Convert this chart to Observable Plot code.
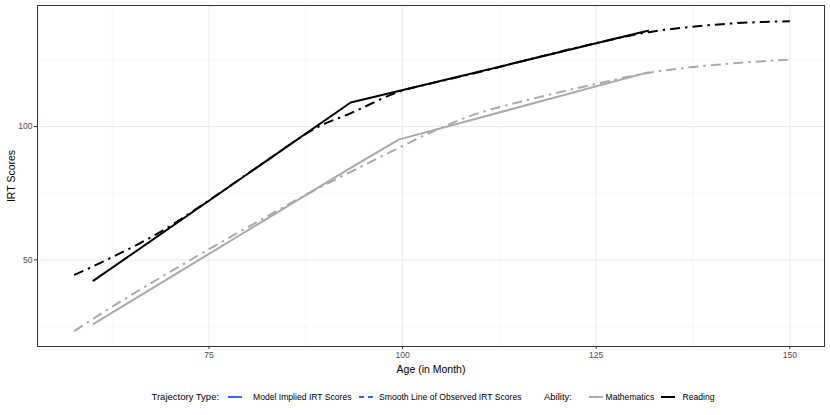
<!DOCTYPE html>
<html>
<head>
<meta charset="utf-8">
<script src="https://cdn.jsdelivr.net/npm/d3@7"></script>
<script src="https://cdn.jsdelivr.net/npm/@observablehq/plot@0.6"></script>
<style>
  html, body { margin: 0; padding: 0; background: white; }
  #wrap { width: 830px; font-family: "Liberation Sans", Arial, Helvetica, sans-serif; }
  svg [aria-label="x-axis label"] text, svg [aria-label="y-axis label"] text { font-size: 10.5px; fill: #000; }
  #legend { position: relative; width: 830px; height: 37px; }
  #legend .t { position: absolute; top: 19px; transform: translateY(-50%); white-space: nowrap; line-height: 1; color: #000; }
  #legend .ttl { font-size: 9.5px; }
  #legend .lab { font-size: 8.6px; }
  #legend svg { position: absolute; top: 16px; }
</style>
</head>
<body>
<div id="wrap"></div>
<script>
// ---- data ----
const abilities = ["Mathematics", "Reading"];
const abilityColors = ["#A9A9A9", "#000000"];

const ageModel = [60.0, 93.3, 99.5, 131.8];
const mathModel = [25.8, 84.5, 95.1, 120.4];
const readModel = [42.0, 109.0, 113.3, 136.0];

const ageSmooth  = [57.6, 62.0, 68.8, 75.0, 82.0, 89.4, 93.3, 99.5, 104.0, 108.3, 116.9, 125.0, 131.8, 137.2, 142.7, 150.0];
const mathSmooth = [23.3, 31.5, 43.5, 54.0, 65.5, 77.3, 83.0, 92.0, 98.3, 103.5, 110.5, 116.0, 120.2, 122.2, 123.7, 125.1];
const readSmooth = [44.3, 50.3, 60.6, 72.3, 86.3, 100.3, 105.0, 113.0, 116.4, 119.3, 125.6, 131.3, 135.4, 137.4, 138.7, 139.5];

const xTicks = [75, 100, 125, 150];
const xMinor = [62.5, 87.5, 112.5, 137.5];
const yTicks = [50, 100];
const yMinor = [25, 75, 125];

const trajectoryTypes = ["Model Implied IRT Scores", "Smooth Line of Observed IRT Scores"];

// ---- tidy tables ----
const modelRows = [];
ageModel.forEach((a, i) => {
  modelRows.push({age: a, score: mathModel[i], ability: abilities[0]});
  modelRows.push({age: a, score: readModel[i], ability: abilities[1]});
});
const smoothRows = [];
ageSmooth.forEach((a, i) => {
  smoothRows.push({age: a, score: mathSmooth[i], ability: abilities[0]});
  smoothRows.push({age: a, score: readSmooth[i], ability: abilities[1]});
});

const chart = Plot.plot({
  width: 830,
  height: 378,
  marginLeft: 37,
  marginRight: 6,
  marginTop: 5,
  marginBottom: 32,
  style: {fontFamily: "'Liberation Sans', Arial, Helvetica, sans-serif", fontSize: "8.5px", color: "#4D4D4D", background: "white"},
  x: {domain: [52.86, 154.48]},
  y: {domain: [17.5, 145.4]},
  color: {domain: abilities, range: abilityColors},
  marks: [
    Plot.ruleX(xMinor, {stroke: "#F2F2F2", strokeWidth: 0.6}),
    Plot.ruleY(yMinor, {stroke: "#F2F2F2", strokeWidth: 0.6}),
    Plot.ruleX(xTicks, {stroke: "#EBEBEB", strokeWidth: 1}),
    Plot.ruleY(yTicks, {stroke: "#EBEBEB", strokeWidth: 1}),
    Plot.line(modelRows, {x: "age", y: "score", z: "ability", stroke: "ability", strokeWidth: 2, strokeLinecap: "butt", strokeLinejoin: "round"}),
    Plot.line(smoothRows, {x: "age", y: "score", z: "ability", stroke: "ability", strokeWidth: 2, curve: "monotone-x", strokeDasharray: "10,5,2.5,5", strokeLinecap: "butt"}),
    Plot.frame({stroke: "#333333", strokeWidth: 1}),
    Plot.axisX(xTicks, {tickSize: 3, tickPadding: 2, stroke: "#333333", fill: "#4D4D4D", label: "Age (in Month)", labelAnchor: "center", labelArrow: "none", labelOffset: 26}),
    Plot.axisY(yTicks, {tickSize: 3, tickPadding: 2, stroke: "#333333", fill: "#4D4D4D", label: "IRT Scores", labelAnchor: "center", labelArrow: "none", labelOffset: 30})
  ]
});

const wrap = document.getElementById("wrap");
wrap.appendChild(chart);

// ---- legend ----
const legend = document.createElement("div");
legend.id = "legend";
function addText(txt, x, cls) {
  const s = document.createElement("span");
  s.className = "t " + cls;
  s.style.left = x + "px";
  s.textContent = txt;
  legend.appendChild(s);
}
function addKey(x, color, dash) {
  const ns = "http://www.w3.org/2000/svg";
  const s = document.createElementNS(ns, "svg");
  s.setAttribute("width", 14); s.setAttribute("height", 6);
  s.style.left = x + "px";
  const l = document.createElementNS(ns, "line");
  l.setAttribute("x1", 0); l.setAttribute("x2", 14);
  l.setAttribute("y1", 3); l.setAttribute("y2", 3);
  l.setAttribute("stroke", color); l.setAttribute("stroke-width", 2);
  if (dash) l.setAttribute("stroke-dasharray", dash);
  s.appendChild(l);
  legend.appendChild(s);
}
addText("Trajectory Type:", 151.5, "ttl");
addKey(228, "#3366FF", null);
addText(trajectoryTypes[0], 253, "lab");
addKey(358.5, "#3366FF", "5,4");
addText(trajectoryTypes[1], 379, "lab");
addText("Ability:", 544, "ttl");
addKey(589, abilityColors[0], null);
addText(abilities[0], 605.5, "lab");
addKey(660.5, abilityColors[1], null);
addText(abilities[1], 682.5, "lab");
wrap.appendChild(legend);
</script>
</body>
</html>
